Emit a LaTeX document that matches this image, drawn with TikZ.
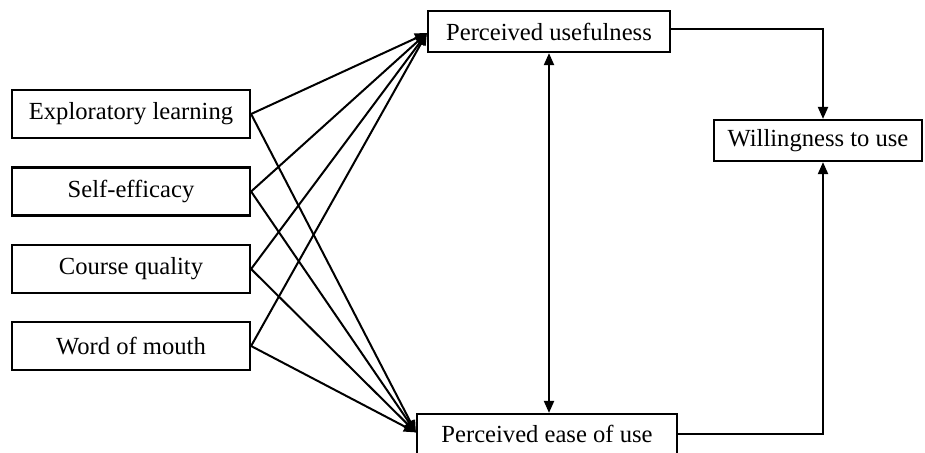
\documentclass[tikz,border=0pt]{standalone}
\usepackage{fontspec}
\setmainfont{Liberation Serif}
\usetikzlibrary{arrows.meta}
\begin{document}
\begin{tikzpicture}[x=0.5pt,y=-0.5pt,
  box/.style={draw,line width=1.1pt,inner sep=0pt,font=\fontsize{12.3}{14}\selectfont},
  leftbox/.style={box,minimum width=119pt,minimum height=24pt},
  arr/.style={line width=1pt,-{Triangle[length=6pt,width=5pt]}},
  darr/.style={line width=1pt,{Triangle[length=6pt,width=5pt]}-{Triangle[length=6pt,width=5pt]}}]
\useasboundingbox (0,0) rectangle (925,452);
\node[leftbox] (EL) at (131,114) {Exploratory learning};
\node[leftbox] (SE) at (131,191.5) {Self-efficacy};
\node[leftbox] (CQ) at (131,269) {Course quality};
\node[leftbox] (WM) at (131,346) {Word of mouth};
\node[box,minimum width=121pt,minimum height=20.5pt] (PU) at (549,31.5) {Perceived usefulness};
\node[box,minimum width=130pt,minimum height=20pt] (PEU) at (547,434) {Perceived ease of use};
\node[box,minimum width=104pt,minimum height=20.5pt] (WTU) at (818,140.5) {Willingness to use};
\foreach \s in {EL,SE,CQ,WM}{
  \draw[arr] (\s.east) -- ([yshift=-0.8pt]PU.west);
  \draw[arr] (\s.east) -- ([yshift=0.8pt]PEU.west);
}
\draw[darr] (PU.south) -- (PU.south |- PEU.north);
\draw[arr] ([yshift=1.5pt]PU.east) -| ([xshift=2.5pt]WTU.north);
\draw[arr] (PEU.east) -| ([xshift=2.5pt]WTU.south);
\end{tikzpicture}
\end{document}
